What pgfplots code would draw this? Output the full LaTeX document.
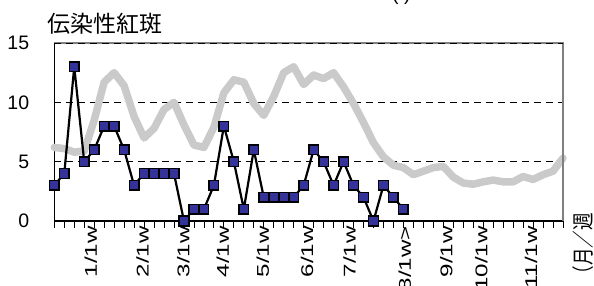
\documentclass[border=0pt]{standalone}
\usepackage{fontspec}
\setmainfont{Liberation Sans}
\newfontfamily\cjk{Noto Sans CJK JP}
\usepackage{pgfplots}
\pgfplotsset{compat=1.18}
\definecolor{mk}{RGB}{51,51,153}
\definecolor{band}{RGB}{202,202,202}
\newcommand{\xl}[1]{\fontsize{17}{19}\selectfont\scalebox{1.42}[1]{#1}\kern5pt\relax}
\begin{document}
\begin{tikzpicture}
\begin{axis}[
  at={(54.3pt,65pt)}, anchor=south west,
  width=508.7pt, height=178pt, scale only axis,
  xmin=0, xmax=51, ymin=0, ymax=15,
  axis lines*=left,
  axis line style={black, line width=1.2pt, -},
  xtick={0,...,51}, xticklabels={},
  tick align=outside,
  x tick style={black, line width=0.8pt},
  major tick length=7pt,
  extra x ticks={3.65,8.84,12.93,16.9,20.9,25.35,29.6,35.14,39.3,42.8,47.8},
  extra x tick labels={\xl{1/1w},\xl{2/1w},\xl{3/1w},\xl{4/1w},\xl{5/1w},\xl{6/1w},\xl{7/1w},\xl{8/1w>},\xl{9/1w},\xl{10/1w},\xl{11/1w}},
  extra x tick style={major tick length=0pt, grid=none,
     tick label style={rotate=90, anchor=east, inner sep=0pt}},
  ytick={0,5,10,15},
  y tick style={draw=none},
  yticklabel style={inner sep=0pt, xshift=-18pt, font=\fontsize{19.5}{22}\selectfont},
  /pgf/number format/assume math mode=true,
  ymajorgrids,
  y grid style={black, line width=0.7pt, dash pattern=on 7pt off 5pt},
  clip=false,
]
\addplot[band, line width=7.5pt, line join=round, line cap=round] coordinates {
(0,6.2)(1,6.1)(2,5.8)(3,5.9)(4,8.5)(5,11.7)(6,12.5)(7,11.4)(8,8.8)(9,7.0)
(10,7.8)(11,9.4)(12,10.0)(13,8.1)(14,6.4)(15,6.2)(16,7.9)(17,10.8)(18,11.9)(19,11.7)
(20,9.9)(21,8.9)(22,10.5)(23,12.5)(24,13.0)(25,11.5)(26,12.3)(27,12.0)(28,12.5)(29,11.3)
(30,9.9)(31,8.3)(32,6.6)(33,5.4)(34,4.7)(35,4.5)(36,3.9)(37,4.2)(38,4.5)(39,4.6)
(40,3.7)(41,3.2)(42,3.1)(43,3.3)(44,3.45)(45,3.3)(46,3.3)(47,3.75)(48,3.5)(49,3.9)
(50,4.2)(51,5.3)};
\addplot[black, line width=2.2pt, mark=square*, mark size=4.8pt,
  mark options={fill=mk, draw=black, line width=1.5pt, solid}] coordinates {
(0,3)(1,4)(2,13)(3,5)(4,6)(5,8)(6,8)(7,6)(8,3)(9,4)
(10,4)(11,4)(12,4)(13,0)(14,1)(15,1)(16,3)(17,8)(18,5)(19,1)
(20,6)(21,2)(22,2)(23,2)(24,2)(25,3)(26,6)(27,5)(28,3)(29,5)
(30,3)(31,2)(32,0)(33,3)(34,2)(35,1)};
\draw[gray, line width=1.2pt] (rel axis cs:0,1) -- (rel axis cs:1,1) -- (rel axis cs:1,0);
\draw[black, line width=0.7pt, dash pattern=on 7pt off 5pt] (rel axis cs:0,1) -- (rel axis cs:1,1);
\end{axis}
\node[anchor=west, inner sep=0pt, font=\cjk\fontsize{23}{26}\selectfont] at (47pt,262pt) {伝染性紅斑};
\node[anchor=base west, inner sep=0pt, font=\fontsize{19.5}{22}\selectfont] at (392pt,285pt) {(\hspace{5.5pt})};
\node[rotate=90, anchor=east, inner sep=0pt, font=\cjk\fontsize{22}{24}\selectfont] at (583pt,73pt) {\scalebox{0.8}[1]{（月／週}};
\pgfresetboundingbox
\path[use as bounding box] (0,0) rectangle (594pt,286pt);
\end{tikzpicture}
\end{document}
